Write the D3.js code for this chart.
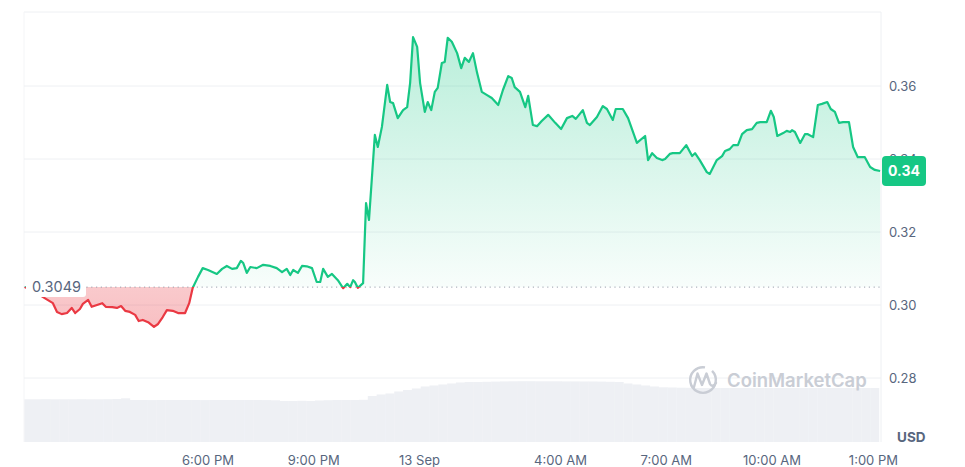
<!DOCTYPE html>
<html><head><meta charset="utf-8">
<script src="https://cdn.jsdelivr.net/npm/d3@7"></script>
<style>
body{margin:0;background:#fff;}
svg{display:block;font-family:Inter,"Noto Sans",sans-serif;}
</style>
</head><body>
<svg id="c" width="965" height="467"></svg>
<script>
// ---- data (minutes after 12:00 PM, 12 Sep) ----
const minutes = [48,65,82,96,103,111,120,128,134,142,
147,156,162,171,180,186,197,205,212,219,
227,236,242,249,258,268,275,283,290,300,
309,321,328,334,343,351,360,375,384,392,
401,409,416,420,426,432,443,454,466,477,
486,494,500,505,513,520,528,537,545,551,
556,564,571,581,590,597,602,607,610,615,
624,629,634,644,649,656,665,670,675,683,
692,699,704,709,716,721,729,734,740,746,
751,758,763,768,775,784,791,797,804,811,
818,826,835,843,854,862,871,877,882,891,
900,905,913,920,928,939,951,961,971,980,
986,998,1005,1010,1022,1032,1039,1049,1054,1066,
1075,1090,1104,1109,1116,1124,1133,1138,1146,1151,
1163,1174,1184,1189,1197,1209,1214,1226,1235,1240,
1248,1254,1262,1269,1277,1286,1294,1300,1311,1318,
1323,1329,1339,1345,1351,1354,1359,1368,1376,1381,
1390,1398,1405,1414,1420,1427,1434,1441,1451,1458,
1466,1478,1487,1495,1504];
const prices = [0.3049,0.3036,0.3019,0.3005,0.2981,0.2975,0.2978,0.2992,0.2978,0.2989,
0.3003,0.3014,0.2995,0.3000,0.3005,0.2995,0.2994,0.2992,0.2997,0.2984,
0.2981,0.2973,0.2956,0.2959,0.2953,0.2940,0.2948,0.2967,0.2986,0.2984,
0.2978,0.2978,0.3005,0.3047,0.3077,0.3101,0.3096,0.3085,0.3099,0.3107,
0.3099,0.3101,0.3121,0.3115,0.3088,0.3104,0.3101,0.3110,0.3107,0.3101,
0.3090,0.3099,0.3082,0.3096,0.3088,0.3107,0.3106,0.3101,0.3063,0.3063,
0.3099,0.3077,0.3085,0.3068,0.3046,0.3058,0.3049,0.3068,0.3063,0.3047,
0.3060,0.3279,0.3233,0.3466,0.3433,0.3488,0.3603,0.3556,0.3553,0.3512,
0.3534,0.3542,0.3608,0.3734,0.3707,0.3608,0.3529,0.3556,0.3534,0.3584,
0.3595,0.3663,0.3666,0.3732,0.3721,0.3690,0.3649,0.3677,0.3666,0.3690,
0.3636,0.3584,0.3575,0.3567,0.3548,0.3589,0.3627,0.3622,0.3597,0.3584,
0.3542,0.3573,0.3493,0.3490,0.3504,0.3521,0.3499,0.3482,0.3512,0.3518,
0.3510,0.3534,0.3499,0.3493,0.3515,0.3545,0.3537,0.3507,0.3537,0.3537,
0.3512,0.3444,0.3463,0.3397,0.3416,0.3403,0.3397,0.3400,0.3414,0.3416,
0.3416,0.3438,0.3408,0.3416,0.3397,0.3364,0.3359,0.3397,0.3408,0.3422,
0.3427,0.3438,0.3438,0.3468,0.3479,0.3482,0.3499,0.3501,0.3501,0.3532,
0.3515,0.3463,0.3471,0.3477,0.3474,0.3479,0.3474,0.3444,0.3468,0.3468,
0.3460,0.3548,0.3551,0.3556,0.3537,0.3529,0.3499,0.3501,0.3501,0.3433,
0.3405,0.3405,0.3378,0.3370,0.3367];
// 24h volume (relative units), one bar per 15 minutes starting at minute 47
const volumeStartMin = 47, volumeStepMin = 15;
const volumes = [4.27,4.27,4.28,4.27,4.27,4.27,4.28,4.27,4.27,4.28,4.30,
4.37,
4.20,4.20,4.19,4.20,4.20,4.20,4.20,4.20,4.19,4.20,4.20,4.20,4.20,4.20,4.20,4.19,4.17,
4.10,4.10,4.12,4.10,4.15,
4.18,4.20,4.20,4.20,4.22,
4.60,4.75,4.85,
5.05,5.20,5.35,
5.55,5.65,5.75,5.85,
5.95,6.00,6.00,6.02,6.04,
6.06,6.07,6.08,6.08,6.07,6.07,6.07,6.06,6.06,6.05,6.05,6.04,6.02,6.00,
5.85,5.75,5.65,5.55,5.47,
5.45,5.43,5.42,5.40,5.40,5.40,5.40,5.40,5.40,5.40,5.40,5.40,5.40,5.40,5.40,5.40,5.40,5.40,5.40,5.40,5.40,5.40,5.40,5.40];
const refPrice = 0.3049;
const lastPrice = 0.3367;
const yTicks = [0.28,0.30,0.32,0.34,0.36];
const xTickHours = [18,21,24,28,31,34,37];
const xTickLabels = ["6:00 PM","9:00 PM","13 Sep","4:00 AM","7:00 AM","10:00 AM","1:00 PM"];
const domainMinutes = [46.8, 1505.5];

// ---- setup ----
const GREEN="#16c784", RED="#ea3943", LABEL="#58667e", GRID="#eef0f3";
const base = new Date(2024,8,12,12,0);
const toDate = m => new Date(base.getTime()+m*60000);
const svg = d3.select("#c");
const L=24, R=881, T=12, B=442;

const x = d3.scaleTime().domain(domainMinutes.map(toDate)).range([L,R]);
const y = d3.scaleLinear().domain([0.28,0.36]).range([378,86]);
const yv = d3.scaleLinear().domain([0,7.2]).range([B,370]);
const data = minutes.map((m,i)=>({t:toDate(m),p:prices[i]}));
const yBase = y(refPrice);

const defs = svg.append("defs");
const gg = defs.append("linearGradient").attr("id","gfill").attr("gradientUnits","userSpaceOnUse")
  .attr("x1",0).attr("x2",0).attr("y1",y(d3.max(prices))).attr("y2",yBase);
gg.append("stop").attr("offset",0).attr("stop-color",GREEN).attr("stop-opacity",0.30);
gg.append("stop").attr("offset",1).attr("stop-color",GREEN).attr("stop-opacity",0.03);
const rg = defs.append("linearGradient").attr("id","rfill").attr("gradientUnits","userSpaceOnUse")
  .attr("x1",0).attr("x2",0).attr("y1",yBase).attr("y2",y(d3.min(prices)));
rg.append("stop").attr("offset",0).attr("stop-color",RED).attr("stop-opacity",0.27);
rg.append("stop").attr("offset",1).attr("stop-color",RED).attr("stop-opacity",0.32);
defs.append("clipPath").attr("id","above").append("rect").attr("x",0).attr("y",0).attr("width",965).attr("height",yBase);
defs.append("clipPath").attr("id","below").append("rect").attr("x",0).attr("y",yBase).attr("width",965).attr("height",467-yBase);

// volume bars
const vstep = x(toDate(volumeStepMin)) - x(toDate(0));
svg.append("g").selectAll("rect").data(volumes).join("rect")
  .attr("x",(d,i)=>x(toDate(volumeStartMin+i*volumeStepMin)))
  .attr("y",d=>yv(d))
  .attr("width",vstep+0.3)
  .attr("height",d=>B-yv(d))
  .attr("fill","#eef0f4");

// frame & grid
const g = svg.append("g");
g.append("line").attr("x1",L).attr("x2",R).attr("y1",T).attr("y2",T).attr("stroke",GRID);
g.append("line").attr("x1",R).attr("x2",R).attr("y1",T).attr("y2",B).attr("stroke",GRID);
g.append("line").attr("x1",L).attr("x2",L).attr("y1",T).attr("y2",B).attr("stroke","#f4f5f7");
g.selectAll(".gl").data(yTicks).join("line").attr("class","gl")
  .attr("x1",L).attr("x2",R).attr("y1",d=>y(d)).attr("y2",d=>y(d)).attr("stroke",GRID);

// watermark
const wm = svg.append("g").attr("fill","none").attr("stroke","#c9cdd5");
wm.append("path").attr("stroke-width",2.4).attr("stroke-linecap","round")
  .attr("d",d3.arc()({innerRadius:12.8,outerRadius:12.8,startAngle:0.25*Math.PI,endAngle:2.05*Math.PI}))
  .attr("transform","translate(703,380)");
wm.append("path").attr("stroke-width",2.4).attr("stroke-linejoin","round").attr("stroke-linecap","round")
  .attr("d","M694,387 L697.5,373.5 L702,385 L706.5,373.5 L710,384 Q712,388 716,383");
svg.append("text").attr("x",727).attr("y",387).attr("font-size",18.5).attr("font-weight",600)
  .attr("fill","#c9cdd5").text("CoinMarketCap");

// areas
const area = d3.area().x(d=>x(d.t)).y0(yBase).y1(d=>y(d.p));
const line = d3.line().x(d=>x(d.t)).y(d=>y(d.p));
svg.append("path").datum(data).attr("d",area).attr("fill","url(#gfill)").attr("clip-path","url(#above)");
svg.append("path").datum(data).attr("d",area).attr("fill","url(#rfill)").attr("clip-path","url(#below)");

// baseline dotted
svg.append("line").attr("x1",L).attr("x2",R).attr("y1",yBase).attr("y2",yBase)
  .attr("stroke","#9aa0ad").attr("stroke-width",1).attr("stroke-dasharray","1.2,3.6");

// lines
svg.append("path").datum(data).attr("d",line).attr("fill","none").attr("stroke",GREEN)
  .attr("stroke-width",2.2).attr("stroke-linejoin","round").attr("clip-path","url(#above)");
svg.append("path").datum(data).attr("d",line).attr("fill","none").attr("stroke",RED)
  .attr("stroke-width",2.2).attr("stroke-linejoin","round").attr("clip-path","url(#below)");

// ref price label
svg.append("rect").attr("x",26).attr("y",yBase-10).attr("width",60).attr("height",20).attr("rx",3).attr("fill","#fff");
svg.append("text").attr("x",32).attr("y",yBase).attr("dy","0.35em").attr("font-size",14.5)
  .attr("fill",LABEL).text(refPrice.toFixed(4));

// y axis labels
svg.append("g").selectAll("text").data(yTicks).join("text")
  .attr("x",889).attr("y",d=>y(d)).attr("dy","0.35em").attr("font-size",13)
  .attr("fill",LABEL).text(d=>d.toFixed(2));

// last price tag
const ly = y(lastPrice);
svg.append("rect").attr("x",882).attr("y",ly-15).attr("width",44).attr("height",30).attr("rx",4).attr("fill",GREEN);
svg.append("text").attr("x",904).attr("y",ly).attr("dy","0.36em").attr("text-anchor","middle")
  .attr("font-size",14).attr("font-weight",700).attr("fill","#fff").text(lastPrice.toFixed(2));

// USD
svg.append("text").attr("x",897).attr("y",442).attr("font-size",13.5).attr("font-weight",700)
  .attr("fill",LABEL).text("USD");

// x labels
const xl = svg.append("g");
xTickHours.forEach((h,i)=>{
  const t = xl.append("text").attr("x",x(toDate((h-12)*60))).attr("y",465)
    .attr("text-anchor","middle").attr("font-size",13).attr("fill",LABEL).text(xTickLabels[i]);
  const bb = t.node().getBBox();
  if (bb.x+bb.width>898) t.attr("x",898-bb.width/2);
});
</script>
</body></html>
